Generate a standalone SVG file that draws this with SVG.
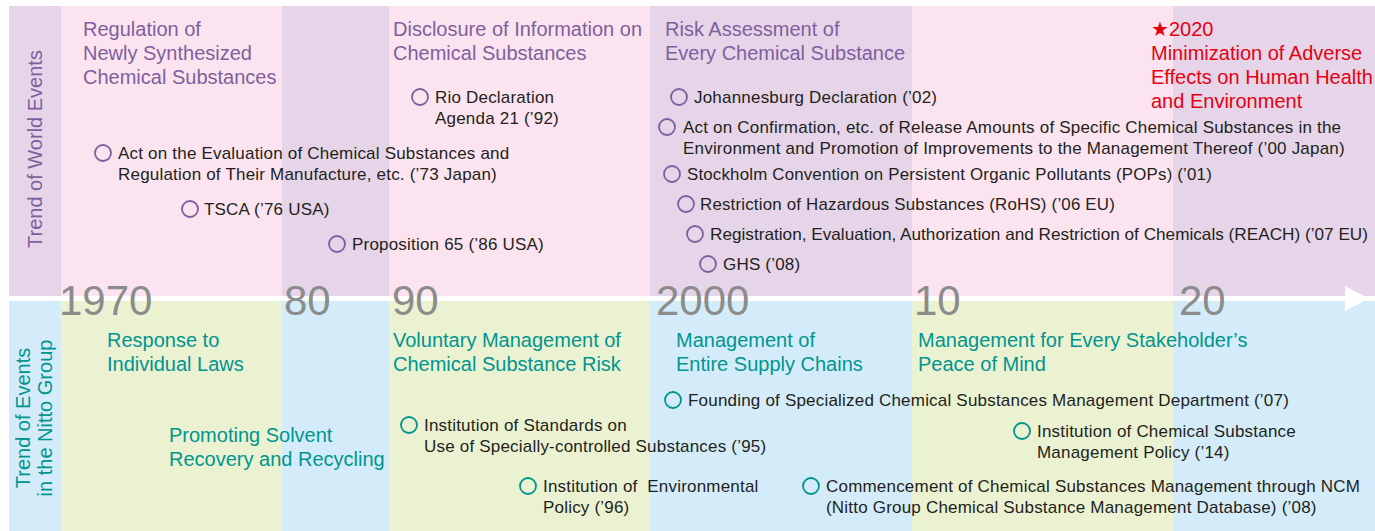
<svg xmlns="http://www.w3.org/2000/svg" width="1375" height="531" viewBox="0 0 1375 531">
<style>
text{font-family:"Liberation Sans",Arial,sans-serif}
.pk{fill:#fbe4ef}.pu{fill:#e6d5e8}.gr{fill:#ebf2d1}.bl{fill:#d4ecf9}
.yr{font-size:42px;fill:#8c8c8c}
.hp{font-size:20px;fill:#7f5f9f}
.ht{font-size:20px;fill:#00958f}
.hr{font-size:20px;fill:#e60012}
.ev{font-size:17px;letter-spacing:0.2px;fill:#231f20}
.evc{font-size:16.5px;fill:#231f20}
.cp{fill:none;stroke:#7f5f9f;stroke-width:1.8}
.ct{fill:none;stroke:#00958f;stroke-width:1.8}
.lp{font-size:20px;fill:#7f5f9f}
.lt{font-size:20px;fill:#00958f}
</style>
<rect width="1375" height="531" fill="#ffffff"/>
<g id="bands-top">
<rect class="pu" x="9" y="6" width="52" height="290"/>
<rect class="pk" x="61" y="6" width="221" height="290"/>
<rect class="pu" x="282" y="6" width="107" height="290"/>
<rect class="pk" x="389" y="6" width="261" height="290"/>
<rect class="pu" x="650" y="6" width="262" height="290"/>
<rect class="pk" x="912" y="6" width="261" height="290"/>
<rect class="pu" x="1173" y="6" width="202" height="290"/>
</g>
<g id="bands-bottom">
<rect class="bl" x="9" y="301" width="52" height="230"/>
<rect class="gr" x="61" y="301" width="221" height="230"/>
<rect class="bl" x="282" y="301" width="107" height="230"/>
<rect class="gr" x="389" y="301" width="261" height="230"/>
<rect class="bl" x="650" y="301" width="262" height="230"/>
<rect class="gr" x="912" y="301" width="261" height="230"/>
<rect class="bl" x="1173" y="301" width="202" height="230"/>
</g>
<g id="connectors">
<rect x="9" y="296" width="1340" height="5" fill="#ffffff"/>
<polygon points="1345,286 1369,298.5 1345,311" fill="#ffffff"/>
</g>
<g id="years">
<text class="yr" x="59" y="315">1970</text>
<text class="yr" x="284" y="315">80</text>
<text class="yr" x="392" y="315">90</text>
<text class="yr" x="656" y="315">2000</text>
<text class="yr" x="914" y="315">10</text>
<text class="yr" x="1179" y="315">20</text>
</g>
<g id="label-world"><text class="lp" transform="translate(42,149) rotate(-90)" text-anchor="middle">Trend of World Events</text></g>
<g id="label-nitto"><text class="lt" transform="translate(30,418) rotate(-90)" text-anchor="middle">Trend of Events</text><text class="lt" transform="translate(52,418) rotate(-90)" text-anchor="middle">in the Nitto Group</text></g>
<g id="head-regulation"><text class="hp" x="83" y="36">Regulation of</text><text class="hp" x="83" y="60">Newly Synthesized</text><text class="hp" x="83" y="84">Chemical Substances</text></g>
<g id="head-disclosure"><text class="hp" x="393" y="36">Disclosure of Information on</text><text class="hp" x="393" y="60">Chemical Substances</text></g>
<g id="head-risk"><text class="hp" x="665" y="36">Risk Assessment of</text><text class="hp" x="665" y="60">Every Chemical Substance</text></g>
<g id="head-2020"><text class="hr" x="1151" y="36">★2020</text><text class="hr" x="1151" y="60">Minimization of Adverse</text><text class="hr" x="1151" y="84">Effects on Human Health</text><text class="hr" x="1151" y="108">and Environment</text></g>
<g id="ev-act73"><circle class="cp" cx="103" cy="153" r="8"/><text class="ev" x="118" y="159">Act on the Evaluation of Chemical Substances and</text><text class="ev" x="118" y="180">Regulation of Their Manufacture, etc. (’73 Japan)</text></g>
<g id="ev-tsca"><circle class="cp" cx="190" cy="209" r="8"/><text class="ev" x="204" y="215">TSCA (’76 USA)</text></g>
<g id="ev-prop65"><circle class="cp" cx="337" cy="244" r="8"/><text class="ev" x="352" y="250">Proposition 65 (’86 USA)</text></g>
<g id="ev-rio"><circle class="cp" cx="420" cy="97" r="8"/><text class="ev" x="435" y="103">Rio Declaration</text><text class="ev" x="435" y="124">Agenda 21 (’92)</text></g>
<g id="ev-johannesburg"><circle class="cp" cx="679" cy="97" r="8"/><text class="ev" x="694" y="103">Johannesburg Declaration (’02)</text></g>
<g id="ev-prtr"><circle class="cp" cx="667" cy="127" r="8"/><text class="ev" x="683" y="133">Act on Confirmation, etc. of Release Amounts of Specific Chemical Substances in the</text><text class="ev" x="683" y="154">Environment and Promotion of Improvements to the Management Thereof (’00 Japan)</text></g>
<g id="ev-stockholm"><circle class="cp" cx="672" cy="174" r="8"/><text class="ev" x="687" y="180" textLength="525" lengthAdjust="spacingAndGlyphs">Stockholm Convention on Persistent Organic Pollutants (POPs) (’01)</text></g>
<g id="ev-rohs"><circle class="cp" cx="686" cy="204" r="8"/><text class="ev" x="700" y="210" textLength="415" lengthAdjust="spacingAndGlyphs">Restriction of Hazardous Substances (RoHS) (’06 EU)</text></g>
<g id="ev-reach"><circle class="cp" cx="695" cy="234" r="8"/><text class="evc" x="710" y="240" textLength="658" lengthAdjust="spacingAndGlyphs">Registration, Evaluation, Authorization and Restriction of Chemicals (REACH) (’07 EU)</text></g>
<g id="ev-ghs"><circle class="cp" cx="708" cy="264" r="8"/><text class="ev" x="723" y="270">GHS (’08)</text></g>
<g id="head-response"><text class="ht" x="107" y="347">Response to</text><text class="ht" x="107" y="371">Individual Laws</text></g>
<g id="head-solvent"><text class="ht" x="169" y="442">Promoting Solvent</text><text class="ht" x="169" y="466">Recovery and Recycling</text></g>
<g id="head-voluntary"><text class="ht" x="393" y="347">Voluntary Management of</text><text class="ht" x="393" y="371">Chemical Substance Risk</text></g>
<g id="head-supply"><text class="ht" x="676" y="347">Management of</text><text class="ht" x="676" y="371">Entire Supply Chains</text></g>
<g id="head-stakeholder"><text class="ht" x="918" y="347">Management for Every Stakeholder’s</text><text class="ht" x="918" y="371">Peace of Mind</text></g>
<g id="ev-standards95"><circle class="ct" cx="409" cy="425" r="8"/><text class="ev" x="424" y="431">Institution of Standards on</text><text class="ev" x="424" y="452">Use of Specially-controlled Substances (’95)</text></g>
<g id="ev-policy96"><circle class="ct" cx="528" cy="486" r="8"/><text class="ev" x="543" y="492" xml:space="preserve">Institution of  Environmental</text><text class="ev" x="543" y="513">Policy (’96)</text></g>
<g id="ev-dept07"><circle class="ct" cx="673" cy="400" r="8"/><text class="ev" x="688" y="406">Founding of Specialized Chemical Substances Management Department (’07)</text></g>
<g id="ev-ncm08"><circle class="ct" cx="811" cy="486" r="8"/><text class="ev" x="826" y="492">Commencement of Chemical Substances Management through NCM</text><text class="ev" x="826" y="513">(Nitto Group Chemical Substance Management Database) (’08)</text></g>
<g id="ev-policy14"><circle class="ct" cx="1022" cy="431" r="8"/><text class="ev" x="1037" y="437">Institution of Chemical Substance</text><text class="ev" x="1037" y="458">Management Policy (’14)</text></g>
</svg>
